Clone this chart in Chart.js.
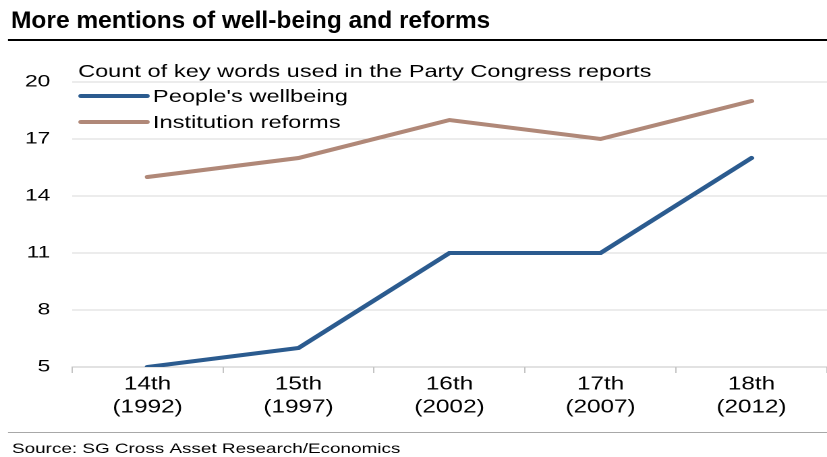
<!DOCTYPE html>
<html>
<head>
<meta charset="utf-8">
<script src="https://cdn.jsdelivr.net/npm/chart.js@4/dist/chart.umd.min.js"></script>
<style>
  html, body { margin: 0; padding: 0; background: #fff; overflow: hidden; }
  /* the chart is drawn narrow and widened, which gives the broad lettering */
  #wrap { position: absolute; left: 0; top: 0; transform-origin: 0 0; }
</style>
</head>
<body>
<div id="wrap"><canvas id="chart" width="613" height="457"></canvas></div>
<script>
(function () {
    'use strict';

    const congresses = [['14th', '(1992)'], ['15th', '(1997)'], ['16th', '(2002)'], ['17th', '(2007)'], ['18th', '(2012)']];
    const wellbeing = [5, 6, 11, 11, 16];
    const reforms = [15, 16, 18, 17, 19];
    const yTicks = [5, 8, 11, 14, 17, 20];

    const titleText = 'More mentions of well-being and reforms';
    const legendTitle = 'Count of key words used in the Party Congress reports';
    const sourceText = 'Source: SG Cross Asset Research/Economics';

    const FONT = '"Liberation Sans", Arial, sans-serif';
    const PAGE_W = 827;
    const CANVAS_W = 613;
    const S = PAGE_W / CANVAS_W;

    document.getElementById('wrap').style.transform = 'scaleX(' + S + ')';

    // title, rules, source note and the inline legend
    const decorations = {
        id: 'decorations',
        afterDraw(chart) {
            const ctx = chart.ctx;
            const w = chart.width;
            ctx.save();
            ctx.textBaseline = 'middle';
            ctx.textAlign = 'left';

            // title keeps its normal proportions
            ctx.save();
            ctx.scale(1 / S, 1);
            ctx.fillStyle = '#000';
            ctx.font = 'bold 24.5px ' + FONT;
            ctx.fillText(titleText, 11, 21);
            ctx.restore();

            ctx.strokeStyle = '#000';
            ctx.lineWidth = 2;
            ctx.beginPath();
            ctx.moveTo(8 / S, 40);
            ctx.lineTo(w, 40);
            ctx.stroke();

            ctx.strokeStyle = '#a8a8a8';
            ctx.lineWidth = 1;
            ctx.beginPath();
            ctx.moveTo(8 / S, 432.5);
            ctx.lineTo(w, 432.5);
            ctx.stroke();

            ctx.fillStyle = '#000';
            ctx.font = '14px ' + FONT;
            ctx.fillText(sourceText, 12 / S, 449);

            ctx.font = '17.5px ' + FONT;
            ctx.fillText(legendTitle, 78 / S, 72);

            chart.data.datasets.forEach(function (ds, i) {
                const y = 96 + i * 26;
                ctx.strokeStyle = ds.borderColor;
                ctx.lineWidth = 4;
                ctx.lineCap = 'round';
                ctx.beginPath();
                ctx.moveTo(81 / S, y);
                ctx.lineTo(147 / S, y);
                ctx.stroke();
                ctx.fillStyle = '#000';
                ctx.fillText(ds.label, 153 / S, y + 1);
            });

            ctx.restore();
        }
    };

    new Chart(document.getElementById('chart'), {
        type: 'line',
        data: {
            labels: congresses,
            datasets: [
                {
                    label: "People's wellbeing",
                    data: wellbeing,
                    borderColor: '#2b5b8f',
                    borderWidth: 4,
                    borderCapStyle: 'round',
                    pointRadius: 0,
                    tension: 0
                },
                {
                    label: 'Institution reforms',
                    data: reforms,
                    borderColor: '#b08878',
                    borderWidth: 4,
                    borderCapStyle: 'round',
                    pointRadius: 0,
                    tension: 0
                }
            ]
        },
        options: {
            responsive: false,
            animation: false,
            devicePixelRatio: 2,
            layout: { padding: { top: 82, right: 0, bottom: 30, left: 0 } },
            plugins: {
                legend: { display: false },
                tooltip: { enabled: false }
            },
            scales: {
                x: {
                    offset: true,
                    grid: { offset: true, drawOnChartArea: false, drawTicks: true, tickLength: 6, color: '#c4c4c4' },
                    border: { display: true, color: '#c4c4c4' },
                    ticks: { color: '#000', font: { family: FONT, size: 18, lineHeight: 1.28 }, padding: 0, maxRotation: 0 },
                    afterFit(scale) { scale.height = 60; }
                },
                y: {
                    min: 5,
                    max: 20,
                    afterBuildTicks(scale) { scale.ticks = yTicks.map(v => ({ value: v })); },
                    grid: { color: '#d8d8d8', drawTicks: false },
                    border: { display: false },
                    ticks: { color: '#000', font: { family: FONT, size: 17 }, padding: 16 },
                    afterFit(scale) { scale.width = 72 / S; }
                }
            }
        },
        plugins: [decorations]
    });
})();
</script>
</body>
</html>
